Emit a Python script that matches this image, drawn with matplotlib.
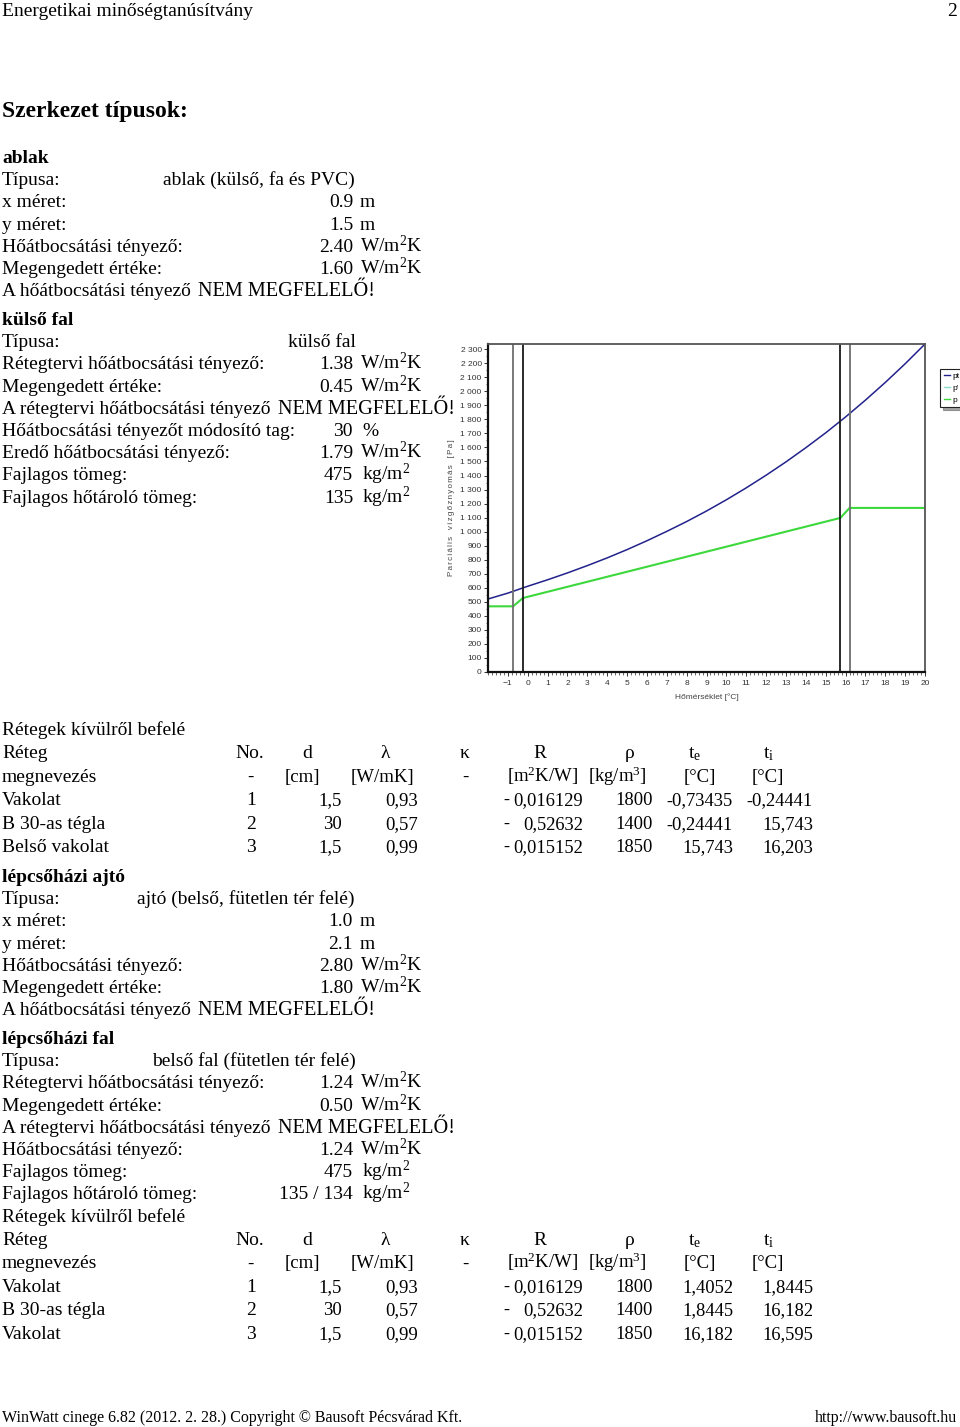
import numpy as np
import matplotlib
matplotlib.use("Agg")
import matplotlib.pyplot as plt
from matplotlib.ticker import FuncFormatter, MultipleLocator
from matplotlib.lines import Line2D

W, H = 960, 1427
plt.rcParams['font.family'] = ['Liberation Serif', 'DejaVu Serif']
plt.rcParams['mathtext.fontset'] = 'custom'
plt.rcParams['mathtext.rm'] = 'Liberation Serif'
plt.rcParams['mathtext.it'] = 'Liberation Serif:italic'
plt.rcParams['mathtext.bf'] = 'Liberation Serif:bold'

FS = 14          # body text size (pt at dpi 100)
FS_NUM = 13.3    # table numbers look a touch narrower
NARROW = ['Liberation Sans Narrow', 'Liberation Sans', 'DejaVu Sans']

# ---- chart data ----
temp_pt = [-2, -1, 0, 1, 2, 3, 4, 5, 6, 7, 8, 9, 10, 11, 12, 13, 14, 15, 16, 17, 18, 19, 20]
pt = [520, 562, 611, 657, 706, 758, 813, 872, 935, 1002, 1072, 1147, 1227, 1312,
      1402, 1497, 1598, 1704, 1817, 1937, 2063, 2196, 2337]
temp_p = [-2, -0.73435, -0.24441, 15.743, 16.203, 20]
p = [468, 468, 527, 1098, 1169, 1169]
layer_bounds = [-0.73435, -0.24441, 15.743, 16.203]
bound_colors = ['#6e6e6e', '#1a1a1a', '#1a1a1a', '#6e6e6e']

# ---- table data ----
tbl_head = ['Réteg', 'No.', 'd', 'λ', 'κ', 'R', 'ρ', r't$_{\rm e}$', r't$_{\rm i}$']
tbl_units = ['megnevezés', '-', '[cm]', '[W/mK]', '-', r'[m$^2$K/W]', r'[kg/m$^3$]', '[°C]', '[°C]']
t1_names = ['Vakolat', 'B 30-as tégla', 'Belső vakolat']
t2_names = ['Vakolat', 'B 30-as tégla', 'Vakolat']
t_no = ['1', '2', '3']
t_d = ['1,5', '30', '1,5']
t_lam = ['0,93', '0,57', '0,99']
t_R = ['0,016129', '0,52632', '0,015152']
t_rho = ['1800', '1400', '1850']
t1_te = ['-0,73435', '-0,24441', '15,743']
t1_ti = ['-0,24441', '15,743', '16,203']
t2_te = ['1,4052', '1,8445', '16,182']
t2_ti = ['1,8445', '16,182', '16,595']

fig = plt.figure(figsize=(W / 100, H / 100), dpi=100)
renderer = fig.canvas.get_renderer()


def T(x, y, s, ha='left', size=FS, **kw):
    return fig.text(x / W, 1 - y / H, s, ha=ha, va='baseline', fontsize=size, **kw)


def warn(y, pre, caps='NEM MEGFELELŐ!', **kw):
    # the capitals in the scan come out a bit wider than the lower-case text
    t = T(2, y, pre, **kw)
    x1 = t.get_window_extent(renderer).x1
    T(x1 + 7, y, caps, size=14.6, **kw)


def val(y, num, unit, xr=353, xu=360):
    T(xr, y, num, ha='right')
    T(xu, y, unit)


sq = r'W/m$^2$K'
kg = r'kg/m$^2$'

# header / footer
T(2, 16, 'Energetikai minőségtanúsítvány')
T(957, 16, '2', ha='right')
T(2, 117, 'Szerkezet típusok:', size=17, fontweight='bold')
T(2, 1422, 'WinWatt cinege 6.82 (2012. 2. 28.) Copyright © Bausoft Pécsvárad Kft.', size=11.5)
T(957, 1422, 'http://www.bausoft.hu', ha='right', size=11.5)

L = 22.2
# ablak
y0 = 163
T(2, y0, 'ablak', fontweight='bold')
T(2, y0 + L, 'Típusa:'); T(163, y0 + L, 'ablak (külső, fa és PVC)')
T(2, y0 + 2 * L, 'x méret:'); val(y0 + 2 * L, '0.9', 'm')
T(2, y0 + 3 * L, 'y méret:'); val(y0 + 3 * L, '1.5', 'm')
T(2, y0 + 4 * L, 'Hőátbocsátási tényező:'); val(y0 + 4 * L, '2.40', sq)
T(2, y0 + 5 * L, 'Megengedett értéke:'); val(y0 + 5 * L, '1.60', sq)
warn(y0 + 6 * L, 'A hőátbocsátási tényező')

# külső fal
y0 = 325
T(2, y0, 'külső fal', fontweight='bold')
T(2, y0 + L, 'Típusa:'); T(288, y0 + L, 'külső fal')
T(2, y0 + 2 * L, 'Rétegtervi hőátbocsátási tényező:'); val(y0 + 2 * L, '1.38', sq)
T(2, y0 + 3 * L, 'Megengedett értéke:'); val(y0 + 3 * L, '0.45', sq)
warn(y0 + 4 * L, 'A rétegtervi hőátbocsátási tényező', zorder=10)
T(2, y0 + 5 * L, 'Hőátbocsátási tényezőt módosító tag:'); val(y0 + 5 * L, '30', '%', xu=362)
T(2, y0 + 6 * L, 'Eredő hőátbocsátási tényező:'); val(y0 + 6 * L, '1.79', sq)
T(2, y0 + 7 * L, 'Fajlagos tömeg:'); val(y0 + 7 * L, '475', kg, xu=362)
T(2, y0 + 8 * L, 'Fajlagos hőtároló tömeg:'); val(y0 + 8 * L, '135', kg, xu=362)


def table(ytitle, names, te, ti):
    rows = [ytitle + 23.4 * k for k in range(6)]
    T(2, rows[0], 'Rétegek kívülről befelé')
    yh, yu = rows[1], rows[2]
    T(2, yh, tbl_head[0]); T(2, yu, tbl_units[0])
    hcent = [250, 307, 385, 465, 540, 630, 695, 769]
    for c, h in zip(hcent, tbl_head[1:]):
        T(c, yh, h, ha='center')
    ucent = [250, 302, 382, 465, 543, 617, 700, 768]
    for c, u in zip(ucent, tbl_units[1:]):
        T(c, yu, u, ha='center', size=13.5)
    for i in range(3):
        y = rows[3 + i]
        T(2, y, names[i])
        T(251, y, t_no[i], ha='center')
        T(342, y, t_d[i], ha='right', size=13.5)
        T(418, y, t_lam[i], ha='right', size=13.5)
        T(503, y, '-', size=FS_NUM)
        T(583, y, t_R[i], ha='right', size=FS_NUM)
        T(653, y, t_rho[i], ha='right', size=FS_NUM)
        T(733, y, te[i], ha='right', size=FS_NUM)
        T(813, y, ti[i], ha='right', size=FS_NUM)


table(735, t1_names, t1_te, t1_ti)

# lépcsőházi ajtó
y0 = 882
T(2, y0, 'lépcsőházi ajtó', fontweight='bold')
T(2, y0 + L, 'Típusa:'); T(137, y0 + L, 'ajtó (belső, fütetlen tér felé)')
T(2, y0 + 2 * L, 'x méret:'); val(y0 + 2 * L, '1.0', 'm')
T(2, y0 + 3 * L, 'y méret:'); val(y0 + 3 * L, '2.1', 'm')
T(2, y0 + 4 * L, 'Hőátbocsátási tényező:'); val(y0 + 4 * L, '2.80', sq)
T(2, y0 + 5 * L, 'Megengedett értéke:'); val(y0 + 5 * L, '1.80', sq)
warn(y0 + 6 * L, 'A hőátbocsátási tényező')

# lépcsőházi fal
y0 = 1044
T(2, y0, 'lépcsőházi fal', fontweight='bold')
T(2, y0 + L, 'Típusa:'); T(152, y0 + L, 'belső fal (fütetlen tér felé)')
T(2, y0 + 2 * L, 'Rétegtervi hőátbocsátási tényező:'); val(y0 + 2 * L, '1.24', sq)
T(2, y0 + 3 * L, 'Megengedett értéke:'); val(y0 + 3 * L, '0.50', sq)
warn(y0 + 4 * L, 'A rétegtervi hőátbocsátási tényező')
T(2, y0 + 5 * L, 'Hőátbocsátási tényező:'); val(y0 + 5 * L, '1.24', sq)
T(2, y0 + 6 * L, 'Fajlagos tömeg:'); val(y0 + 6 * L, '475', kg, xu=362)
T(2, y0 + 7 * L, 'Fajlagos hőtároló tömeg:'); val(y0 + 7 * L, '135 / 134', kg, xu=362)

table(y0 + 8 * L, t2_names, t2_te, t2_ti)

# ---- chart ----
ax = fig.add_axes([488 / W, 1 - 672 / H, (925 - 488) / W, (672 - 344) / H])
ax.plot(temp_pt, pt, color='#22228c', lw=1.1, label='pt')
ax.plot(temp_p, p, color='#3cd83c', lw=1.5, label='p')
for xb, cb in zip(layer_bounds, bound_colors):
    ax.axvline(xb, color=cb, lw=1.3)
ax.set_xlim(-2, 20)
ax.set_ylim(0, 2337)
ax.set_xticks(range(-1, 21))
ax.xaxis.set_minor_locator(MultipleLocator(0.2))
ax.yaxis.set_major_locator(MultipleLocator(100))
ax.yaxis.set_minor_locator(MultipleLocator(50))
ax.yaxis.set_major_formatter(FuncFormatter(lambda v, _: f"{int(v):,}".replace(",", " ")))
ax.tick_params(axis='both', which='major', length=3, width=0.7, labelsize=6, pad=1.5,
               colors='#333333')
ax.tick_params(axis='x', which='major', pad=3)
ax.tick_params(axis='both', which='minor', length=1.8, width=0.5, colors='#333333')
for lab in ax.get_xticklabels() + ax.get_yticklabels():
    lab.set_family(NARROW)
for s in ['left', 'bottom']:
    ax.spines[s].set_linewidth(1.6)
    ax.spines[s].set_color('#111111')
for s in ['top', 'right']:
    ax.spines[s].set_linewidth(1.3)
    ax.spines[s].set_color('#555555')
ylab = '   '.join('\u200a\u200a'.join(w) for w in ['Parciális', 'vízgőznyomás', '[Pa]'])
ax.set_ylabel(ylab, fontsize=5.8, family=NARROW, color='#444444', labelpad=4)
ax.set_xlabel('Hőmérséklet [°C]', fontsize=6, family=NARROW, color='#444444', labelpad=4)

handles = [Line2D([], [], color='#22228c', lw=1),
           Line2D([], [], color='#88e0c8', lw=1),
           Line2D([], [], color='#3cd83c', lw=1)]
leg = ax.legend(handles, ['pt', "p'", 'p'], loc='upper left',
                bbox_to_anchor=(936 / W, 1 - 365 / H), bbox_transform=fig.transFigure,
                frameon=True, fancybox=False, shadow=True,
                handlelength=0.8, handletextpad=0.3, borderpad=0.4, labelspacing=0.45,
                edgecolor='#222222', prop={'family': NARROW, 'size': 6})
leg.get_frame().set_linewidth(0.8)

fig.savefig('out.png', dpi=100)
